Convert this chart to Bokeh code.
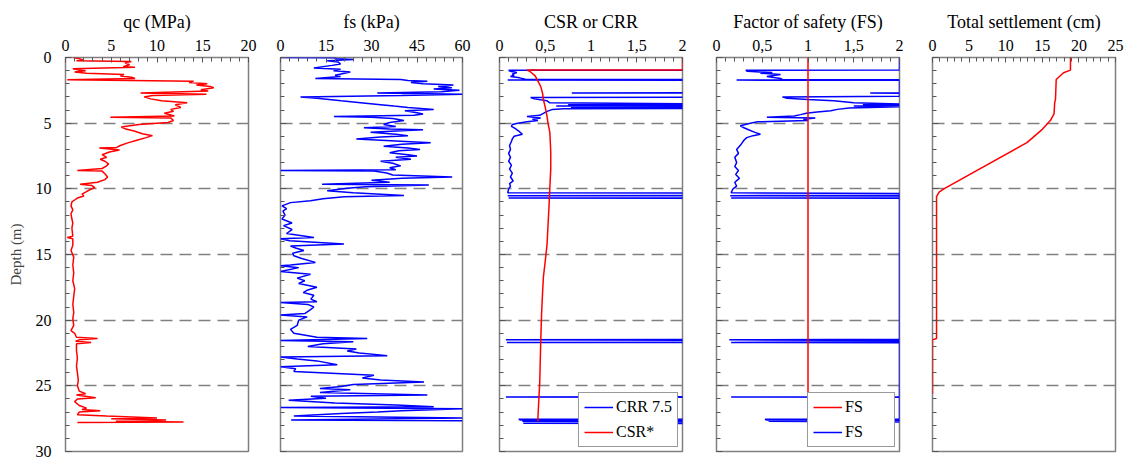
from bokeh.plotting import figure
from bokeh.layouts import row
from bokeh.models import Range1d, FixedTicker, CustomJSTickFormatter, Legend, LegendItem
from bokeh.embed import file_html
from bokeh.resources import INLINE

# ---------------- data ----------------
qc_depth = [0.0, 0.1, 0.2, 0.25, 0.3, 0.4, 0.55, 0.7, 0.75, 0.85, 0.95, 1.0, 1.1, 1.2, 1.3, 1.4, 1.5, 1.6, 1.7,
            1.8, 1.9, 2.0, 2.1, 2.2, 2.3, 2.45, 2.55, 2.7, 2.8, 2.9, 3.0, 3.15, 3.3, 3.45, 3.6, 3.8, 3.95, 4.1,
            4.25, 4.45, 4.55, 4.6, 4.8, 4.95, 5.1, 5.3, 5.45, 5.6, 5.8, 5.95, 6.1, 6.3, 6.5, 6.7, 6.85, 6.9,
            7.05, 7.2, 7.4, 7.6, 7.75, 7.9, 8.1, 8.25, 8.45, 8.6, 8.65, 8.85, 9.1, 9.3, 9.5, 9.65, 9.75, 9.9,
            10.05, 10.25, 10.4, 10.55, 10.7, 10.85, 11.0, 11.3, 11.6, 11.9, 12.3, 12.6, 13.0, 13.6, 13.7, 13.8,
            14.3, 14.7, 15.2, 15.8, 16.4, 17.0, 17.6, 18.2, 18.8, 19.4, 19.9, 20.4, 20.8, 21.0, 21.3, 21.4,
            21.5, 21.6, 21.7, 21.8, 22.3, 22.9, 23.5, 24.0, 24.6, 25.0, 25.4, 25.6, 25.7, 25.9, 26.0, 26.2,
            26.5, 26.7, 26.8, 26.9, 27.0, 27.2, 27.3, 27.45, 27.5, 27.6, 27.7, 27.75, 27.8]
qc_mpa = [0.9, 1.5, 2.0, 1.2, 7.2, 6.5, 7.0, 6.3, 7.6, 0.8, 1.5, 2.2, 1.0, 2.3, 6.4, 6.0, 7.2, 7.6, 0.2,
          14.0, 13.5, 15.5, 14.3, 15.8, 16.2, 14.8, 15.6, 8.2, 15.4, 9.5, 8.6, 9.3, 10.5, 13.3, 12.0, 12.6, 11.5, 11.8,
          10.8, 11.9, 4.9, 11.5, 11.8, 11.2, 8.0, 6.1, 6.6, 7.5, 8.4, 9.5, 8.8, 7.8, 6.8, 6.0, 5.6, 3.7,
          5.9, 4.8, 4.0, 4.5, 3.8, 4.3, 4.7, 4.5, 4.0, 1.3, 4.0, 4.3, 4.6, 4.3, 3.5, 1.6, 2.9, 3.2,
          2.7, 2.2, 1.8, 2.0, 1.3, 1.0, 0.7, 0.6, 0.8, 0.6, 0.7, 0.8, 0.7, 0.8, 0.2, 0.8,
          0.8, 0.6, 0.9, 0.8, 0.9, 0.8, 1.0, 0.9, 0.8, 0.9, 0.8, 0.9, 0.6, 1.0, 1.2, 3.5,
          1.5, 1.1, 2.8, 1.2, 1.2, 1.3, 1.2, 1.3, 1.4, 1.3, 1.5, 2.2, 1.2, 3.3, 1.3, 1.0,
          1.5, 2.3, 1.8, 3.8, 1.5, 1.3, 4.5, 10.0, 5.0, 11.0, 5.5, 12.9, 1.3]

fs_depth = [0.0, 0.02, 0.1, 0.15, 0.25, 0.35, 0.5, 0.6, 0.8, 0.9, 1.0, 1.1, 1.25, 1.35, 1.45, 1.6, 1.67, 1.75,
            1.8, 1.9, 2.0, 2.1, 2.2, 2.3, 2.4, 2.5, 2.6, 2.7, 2.8, 2.9, 3.0, 3.1, 3.3, 3.45, 3.6, 3.7, 3.8,
            3.95, 4.05, 4.2, 4.3, 4.4, 4.5, 4.55, 4.65, 4.8, 4.95, 5.1, 5.25, 5.35, 5.45, 5.5, 5.6, 5.7, 5.85,
            5.95, 6.05, 6.2, 6.35, 6.5, 6.6, 6.75, 6.9, 7.0, 7.1, 7.25, 7.4, 7.5, 7.6, 7.75, 7.9, 8.05, 8.25,
            8.4, 8.55, 8.6, 8.65, 8.8, 8.95, 9.1, 9.2, 9.35, 9.5, 9.65, 9.7, 9.85, 9.95, 10.15, 10.3, 10.5,
            10.6, 10.75, 10.9, 11.05, 11.3, 11.5, 11.7, 12.0, 12.3, 12.6, 12.8, 13.1, 13.4, 13.7, 13.8, 13.95,
            14.2, 14.35, 14.5, 14.7, 14.9, 15.1, 15.3, 15.6, 15.8, 15.85, 16.0, 16.3, 16.5, 16.8, 17.0, 17.2,
            17.5, 17.7, 17.9, 18.1, 18.4, 18.6, 18.65, 18.8, 19.0, 19.2, 19.5, 19.6, 19.75, 20.0, 20.4, 20.7,
            21.0, 21.3, 21.4, 21.55, 21.65, 21.8, 22.0, 22.2, 22.35, 22.5, 22.7, 22.8, 22.95, 23.1, 23.4, 23.55,
            23.7, 23.9, 24.2, 24.4, 24.55, 24.7, 24.9, 25.05, 25.2, 25.3, 25.5, 25.7, 25.8, 25.95, 26.1, 26.3,
            26.45, 26.6, 26.65, 26.75, 26.9, 27.0, 27.1, 27.3, 27.45, 27.6, 27.65]
fs_kpa = [0.0, 17.6, 18.5, 24.0, 15.4, 19.0, 19.8, 17.0, 11.0, 19.8, 17.5, 23.0, 20.0, 18.0, 19.8, 11.5, 39.6, 42.0,
          48.4, 43.0, 47.0, 57.0, 52.0, 56.5, 50.5, 59.0, 53.0, 31.9, 60.0, 40.0, 6.6, 12.0, 20.0, 26.4, 33.0, 37.4, 42.0,
          50.5, 41.0, 45.0, 47.0, 44.0, 17.6, 30.0, 37.0, 40.7, 36.0, 34.0, 38.0, 27.5, 36.0, 47.0, 38.0, 29.7, 38.0,
          42.0, 33.0, 25.0, 38.0, 49.5, 40.0, 34.0, 42.0, 46.0, 39.0, 36.0, 42.0, 45.0, 38.0, 43.0, 33.0, 37.0, 39.6,
          36.0, 38.0, 0.0, 30.8, 35.0, 37.0, 56.6, 40.0, 30.0, 36.0, 13.7, 48.9, 28.0, 22.0, 15.4, 24.0, 40.7,
          21.0, 14.0, 9.9, 3.3, 0.5, 2.0, 0.8, 1.5, 0.5, 3.8, 1.0, 3.8, 2.0, 11.0, 0.0, 3.0,
          20.9, 3.3, 5.0, 7.7, 4.0, 4.4, 7.0, 11.5, 3.3, 0.0, 6.0, 0.0, 9.9, 5.5, 8.0, 6.0,
          12.0, 9.0, 7.5, 11.0, 10.0, 12.0, 0.0, 9.0, 11.0, 9.9, 8.0, 0.0, 8.8, 6.0, 5.5, 3.3,
          4.4, 12.0, 28.6, 0.0, 24.0, 14.0, 9.0, 25.0, 22.0, 26.0, 35.2, 0.0, 5.5, 12.0, 18.7, 0.0,
          5.0, 4.4, 30.8, 27.0, 33.0, 47.3, 24.0, 20.0, 13.0, 23.0, 13.0, 48.4, 10.0, 15.0, 2.7, 18.0,
          38.0, 50.5, 0.0, 60.0, 40.0, 32.0, 20.0, 4.4, 60.0, 3.5, 60.0]

csr_depth = [0.0, 0.96, 0.96, 1.1, 1.4, 1.8, 2.2, 2.7, 3.2, 3.8, 4.5, 5.0, 5.7, 6.4, 7.2, 8.5, 10.5, 11.5,
             12.8, 14.2, 15.5, 16.7, 18.0, 19.5, 21.8, 24.7, 27.4, 27.7]
csr_val = [2.0, 2.0, 0.30, 0.34, 0.39, 0.42, 0.45, 0.47, 0.48, 0.50, 0.52, 0.53, 0.55, 0.555, 0.56, 0.56, 0.546, 0.54,
           0.53, 0.52, 0.50, 0.48, 0.47, 0.46, 0.45, 0.44, 0.42, 0.42]

crr_depth = [0.96, 0.97, 1.05, 1.15, 1.25, 1.35, 1.45, 1.55, 1.65, 1.70, 1.72, 1.74, 2.68, 2.70, 2.72, 3.0, 3.05,
             3.15, 3.3, 3.45, 3.55, 3.6, 3.65, 3.7, 3.75, 3.8, 3.85, 3.9, 3.95, 4.1, 4.25, 4.4, 4.5, 4.6, 4.7,
             4.8, 4.9, 5.0, 5.1, 5.25, 5.4, 5.6, 5.85, 6.0, 6.2, 6.4, 6.7, 7.0, 7.3, 7.6, 7.9, 8.2, 8.5, 8.8,
             9.1, 9.4, 9.6, 9.8, 10.0, 10.3, 10.35, 10.5, 10.52, 10.55, 10.68, 10.7, 10.72, 21.45, 21.5, 21.55,
             21.65, 21.7, 21.72, 25.83, 25.85, 25.87, 27.53, 27.55, 27.6, 27.62, 27.68, 27.7, 27.75, 27.82,
             27.85, 27.87]
crr_val = [4.0, 0.10, 0.12, 0.19, 0.14, 0.16, 0.12, 0.22, 0.28, 4.0, 0.09, 4.0, 4.0, 0.79, 4.0, 4.0, 0.34,
           0.38, 0.52, 0.55, 2.5, 0.75, 4.0, 0.62, 4.0, 0.78, 4.0, 0.70, 0.58, 0.52, 0.48, 0.44, 0.30, 0.45, 0.36,
           0.42, 0.30, 0.20, 0.14, 0.13, 0.17, 0.21, 0.25, 0.16, 0.14, 0.13, 0.11, 0.12, 0.10, 0.12, 0.10, 0.13, 0.11, 0.14,
           0.12, 0.15, 0.11, 0.12, 0.10, 0.09, 4.0, 4.0, 0.09, 4.0, 4.0, 0.10, 4.0, 4.0, 0.07, 4.0,
           4.0, 0.08, 4.0, 4.0, 0.07, 4.0, 4.0, 0.21, 0.23, 4.0, 4.0, 0.25, 4.0, 4.0,
           0.26, 4.0]

fos_depth = [0.0, 0.96, 0.97, 1.05, 1.15, 1.2, 1.3, 1.45, 1.6, 1.67, 1.70, 1.72, 1.74, 2.68, 2.70, 2.72, 2.95,
             3.0, 3.1, 3.2, 3.3, 3.45, 3.55, 3.6, 3.65, 3.7, 3.75, 3.85, 3.95, 4.05, 4.15, 4.25, 4.35, 4.45,
             4.55, 4.6, 4.7, 4.8, 4.9, 5.0, 5.2, 5.35, 5.5, 5.7, 5.85, 5.95, 6.1, 6.3, 6.6, 7.0, 7.3, 7.6,
             8.0, 8.3, 8.6, 8.9, 9.2, 9.5, 9.8, 10.0, 10.3, 10.35, 10.5, 10.52, 10.55, 10.68, 10.7, 10.72,
             21.45, 21.5, 21.55, 21.65, 21.7, 21.72, 25.83, 25.85, 25.87, 27.53, 27.55, 27.6, 27.62, 27.68,
             27.7, 27.75]
fos_val = [2.0, 2.0, 0.32, 0.34, 0.61, 0.48, 0.70, 0.55, 0.70, 0.72, 2.0, 0.22, 2.0, 2.0, 1.68, 2.0, 2.0,
           0.72, 0.77, 1.0, 1.28, 1.5, 2.0, 1.6, 2.0, 1.5, 2.0, 1.45, 1.32, 1.25, 1.1, 0.98, 0.92, 0.85,
           0.55, 1.08, 0.95, 1.0, 0.45, 0.37, 0.26, 0.30, 0.35, 0.42, 0.48, 0.40, 0.33, 0.30, 0.27, 0.22, 0.24, 0.20,
           0.22, 0.20, 0.24, 0.21, 0.25, 0.20, 0.22, 0.18, 0.16, 2.0, 2.0, 0.15, 2.0, 2.0, 0.16, 2.0,
           2.0, 0.14, 2.0, 2.0, 0.16, 2.0, 2.0, 0.16, 2.0, 2.0, 0.53, 0.55, 2.0, 2.0,
           0.57, 2.0]

fsline_depth = [0.0, 25.6]
fsline_val = [1.0, 1.0]

set_depth = [0.0, 0.96, 1.16, 1.67, 3.2, 3.4, 4.3, 4.8, 5.47, 6.48, 10.0, 10.25, 10.6, 21.4, 21.5, 25.6]
set_cm = [18.85, 18.85, 17.9, 16.9, 16.8, 16.7, 16.6, 16.1, 15.0, 12.9, 1.55, 0.9, 0.55, 0.55, 0.0, 0.0]

titles = ["qc (MPa)", "fs (kPa)", "CSR or CRR", "Factor of safety (FS)", "Total settlement (cm)"]
depth_ticks = [0, 5, 10, 15, 20, 25, 30]
# --------------------------------------

FONT = "'Liberation Serif', 'Times New Roman', serif"
GRAY = "#808080"
RED = "#ff0000"
BLUE = "#0000ff"
LW = 1.5


def frange(a, b, s):
    out = []
    v = a
    while v <= b + 1e-9:
        out.append(round(v, 6))
        v += s
    return out


def make_fig(title, xmax, major, minor_step, bl, br, fw, first=False, comma=False):
    p = figure(x_range=Range1d(0, xmax), y_range=Range1d(30, 0),
               frame_width=fw, frame_height=394, x_axis_location="above",
               toolbar_location=None, output_backend="svg",
               min_border_left=bl, min_border_right=br, min_border_top=57, min_border_bottom=8,
               title=title, background_fill_color="white", border_fill_color="white")
    p.title.text_font = FONT
    p.title.text_font_size = "18px"
    p.title.text_font_style = "normal"
    p.title.align = "center"
    p.title.standoff = 9
    p.title.text_color = "black"
    p.outline_line_color = GRAY
    p.outline_line_width = 1.5
    p.outline_line_alpha = 1.0

    xa = p.xaxis[0]
    xa.ticker = FixedTicker(ticks=major, minor_ticks=frange(0, xmax, minor_step))
    xa.major_label_text_font = FONT
    xa.major_label_text_font_size = "16px"
    xa.major_label_text_color = "black"
    xa.major_label_standoff = 7
    xa.major_tick_in = 5
    xa.major_tick_out = 0
    xa.minor_tick_in = 4
    xa.minor_tick_out = 0
    xa.axis_line_color = None
    xa.major_tick_line_color = "#555555"
    xa.minor_tick_line_color = "#555555"
    if comma:
        xa.formatter = CustomJSTickFormatter(code="return tick.toString().replace('.', ',');")

    ya = p.yaxis[0]
    ya.ticker = FixedTicker(ticks=depth_ticks, minor_ticks=list(range(0, 31)))
    ya.major_tick_in = 6
    ya.major_tick_out = 0
    ya.minor_tick_in = 4
    ya.minor_tick_out = 0
    ya.axis_line_color = None
    ya.major_tick_line_color = "#555555"
    ya.minor_tick_line_color = "#555555"
    if first:
        ya.major_label_text_font = FONT
        ya.major_label_text_font_size = "16px"
        ya.major_label_text_color = "black"
        ya.major_label_standoff = 14
        ya.axis_label = "Depth (m)"
        ya.axis_label_text_font = FONT
        ya.axis_label_text_font_size = "15px"
        ya.axis_label_text_font_style = "normal"
        ya.axis_label_standoff = 9
    else:
        ya.formatter = CustomJSTickFormatter(code="return '';")
        ya.major_label_standoff = 0

    p.xgrid.visible = False
    p.ygrid.ticker = FixedTicker(ticks=[5, 10, 15, 20, 25, 30])
    p.ygrid.grid_line_color = GRAY
    p.ygrid.grid_line_dash = "12 7"
    p.ygrid.grid_line_width = 1.3
    return p


p1 = make_fig(titles[0], 20, [0, 5, 10, 15, 20], 1, 65, 16, 183, first=True)
p1.line(qc_mpa, qc_depth, line_color=RED, line_width=LW)

p2 = make_fig(titles[1], 60, [0, 15, 30, 45, 60], 3, 16, 18, 182)
p2.line(fs_kpa, fs_depth, line_color=BLUE, line_width=LW)

p3 = make_fig(titles[2], 2, [0, 0.5, 1, 1.5, 2], 0.1, 19, 17, 183, comma=True)
r_crr = p3.line(crr_val, crr_depth, line_color=BLUE, line_width=LW)
r_csr = p3.line(csr_val, csr_depth, line_color=RED, line_width=LW)

p4 = make_fig(titles[3], 2, [0, 0.5, 1, 1.5, 2], 0.1, 17, 16, 183, comma=True)
r_fos = p4.line(fos_val, fos_depth, line_color=BLUE, line_width=LW)
r_fsl = p4.line(fsline_val, fsline_depth, line_color=RED, line_width=LW)

p5 = make_fig(titles[4], 25, [0, 5, 10, 15, 20, 25], 1, 17, 10, 183)
p5.line(set_cm, set_depth, line_color=RED, line_width=LW)


def style_legend(lg, label_w):
    lg.location = "bottom_right"
    lg.margin = 4
    lg.padding = 5
    lg.spacing = 7
    lg.glyph_width = 29
    lg.glyph_height = 18
    lg.label_height = 18
    lg.label_width = label_w
    lg.label_standoff = 3
    lg.label_text_font = FONT
    lg.label_text_font_size = "16px"
    lg.label_text_color = "black"
    lg.border_line_color = "#333333"
    lg.border_line_width = 1.5
    lg.background_fill_color = "white"
    lg.background_fill_alpha = 1.0


lg3 = Legend(items=[LegendItem(label="CRR 7.5", renderers=[r_crr]),
                    LegendItem(label="CSR*", renderers=[r_csr])])
style_legend(lg3, 55)
p3.add_layout(lg3)

lg4 = Legend(items=[LegendItem(label="FS", renderers=[r_fsl]),
                    LegendItem(label="FS", renderers=[r_fos])])
style_legend(lg4, 44)
p4.add_layout(lg4)

layout = row(p1, p2, p3, p4, p5)
open("out.html", "w").write(file_html(layout, INLINE))
